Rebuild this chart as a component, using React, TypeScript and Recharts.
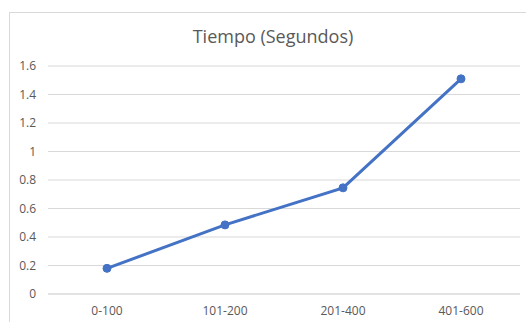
import React from "react";
import { LineChart, Line, XAxis, YAxis, CartesianGrid } from "recharts";

const categories = ["0-100", "101-200", "201-400", "401-600"];
const tiempo = [0.18, 0.485, 0.745, 1.51];
const yTicks = [0, 0.2, 0.4, 0.6, 0.8, 1, 1.2, 1.4, 1.6];

const data = categories.map((c, i) => ({ name: c, value: tiempo[i] }));

const FONT = "'Open Sans', 'Noto Sans', sans-serif";

export default function App() {
  return (
    <div style={{ position: "absolute", left: 0, top: 0, width: 526, height: 322, overflow: "hidden", background: "#fff" }}>
      <div style={{ position: "absolute", left: 9, top: 12, width: 600, height: 400, border: "1px solid #d9d9d9" }} />
      <div
        style={{
          position: "absolute",
          left: 0,
          top: 24,
          width: 546,
          textAlign: "center",
          fontFamily: FONT,
          fontSize: 18,
          color: "#595959",
          lineHeight: "24px",
        }}
      >
        Tiempo (Segundos)
      </div>
      <div style={{ position: "absolute", left: 0, top: 0 }}>
        <LineChart width={526} height={322} data={data} margin={{ top: 66, right: 6, bottom: 0, left: 0 }}>
          <CartesianGrid vertical={false} stroke="#d9d9d9" strokeWidth={1} />
          <XAxis
            dataKey="name"
            axisLine={{ stroke: "#d9d9d9" }}
            tickLine={false}
            tickMargin={6}
            height={28}
            padding={{ left: 59, right: 59 }}
            tick={{ fill: "#595959", fontSize: 12, fontFamily: FONT }}
          />
          <YAxis
            domain={[0, 1.6]}
            ticks={yTicks}
            width={48}
            axisLine={false}
            tickLine={false}
            tickMargin={6}
            tick={{ fill: "#595959", fontSize: 12, fontFamily: FONT }}
          />
          <Line
            type="linear"
            dataKey="value"
            stroke="#4472C4"
            strokeWidth={3}
            dot={{ r: 4, fill: "#4472C4", stroke: "#4472C4", strokeWidth: 1 }}
            isAnimationActive={false}
          />
        </LineChart>
      </div>
    </div>
  );
}
